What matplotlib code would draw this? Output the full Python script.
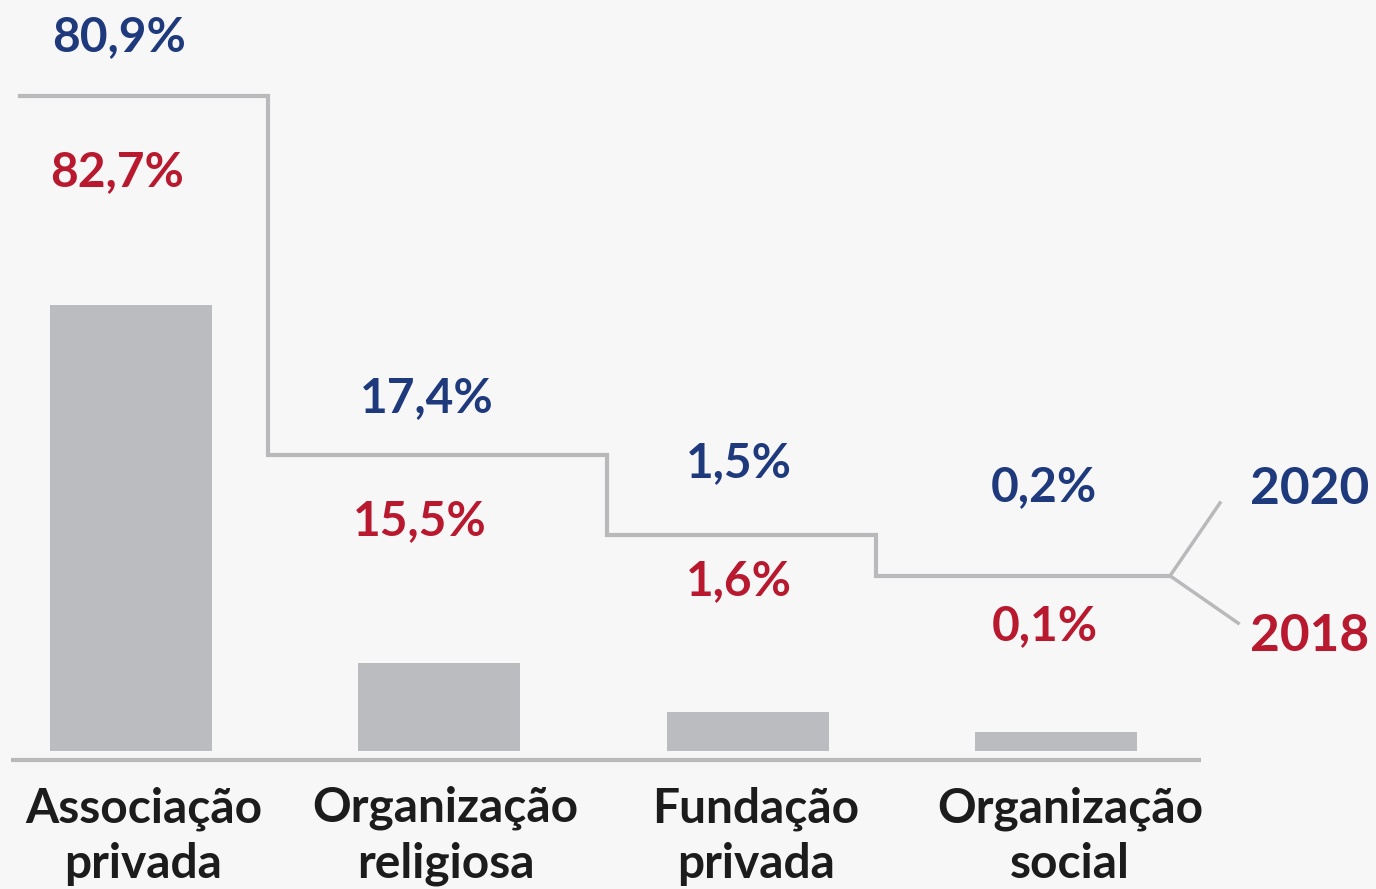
import matplotlib.pyplot as plt

# data
categories = ["Associação\nprivada", "Organização\nreligiosa", "Fundação\nprivada", "Organização\nsocial"]
pct_2020 = ["80,9%", "17,4%", "1,5%", "0,2%"]
pct_2018 = ["82,7%", "15,5%", "1,6%", "0,1%"]
bar_heights = [81.9, 16.2, 7.2, 3.5]  # bars are drawn schematic in the original

BLUE = "#1f3a7c"
RED = "#b8192e"
BAR = "#bbbcc0"
LINE = "#b9b9bb"
BG = "#f7f7f7"

# layout (data units of the full-figure axes)
step_x = [-0.36, 0.444, 1.544, 2.416, 3.37]
step_y = [120.4, 54.4, 39.7, 32.2]
y_2020 = [131.2, 64.9, 52.9, 48.5]
y_2018 = [106.4, 42.3, 31.2, 23.0]
x_2020 = [-0.04, 0.96, 1.97, 2.96]
x_2018 = [-0.045, 0.935, 1.97, 2.965]
cat_shift = [0.04, 0.02, 0.026, 0.045]

fig = plt.figure(figsize=(13.76, 8.89), dpi=100)
fig.patch.set_facecolor(BG)
ax = fig.add_axes([0, 0, 1, 1])
ax.set_facecolor(BG)
ax.set_xlim(-0.425, 4.038)
ax.set_ylim(-25.37, 138.05)
ax.axis("off")

x = range(len(categories))
ax.bar(x, bar_heights, width=0.526, color=BAR, zorder=2)

# baseline
ax.plot([-0.39, 3.47], [-1.65, -1.65], color=LINE, lw=3, solid_capstyle="butt")

# step line separating 2020 (above) and 2018 (below)
sx, sy = [], []
for i, lvl in enumerate(step_y):
    sx += [step_x[i], step_x[i + 1]]
    sy += [lvl, lvl]
ax.plot(sx, sy, color=LINE, lw=3, solid_joinstyle="miter")
# fork towards the year labels
ax.plot([3.532, step_x[-1], 3.591], [45.6, step_y[-1], 23.5], color=LINE, lw=2.5)

font = "Lato"
for i in x:
    ax.text(x_2020[i], y_2020[i], pct_2020[i], color=BLUE, fontsize=34.5,
            fontweight="bold", family=font, ha="center", va="center")
    ax.text(x_2018[i], y_2018[i], pct_2018[i], color=RED, fontsize=34.5,
            fontweight="bold", family=font, ha="center", va="center")
    ax.text(i + cat_shift[i], -15.6, categories[i], color="#1c1c1c", fontsize=34.5,
            fontweight="bold", family=font, ha="center", va="center",
            linespacing=1.3)

ax.text(3.63, 48.0, "2020", color=BLUE, fontsize=37, fontweight="bold",
        family=font, ha="left", va="center")
ax.text(3.63, 21.1, "2018", color=RED, fontsize=37, fontweight="bold",
        family=font, ha="left", va="center")

fig.savefig("out.png", dpi=100, facecolor=BG)
